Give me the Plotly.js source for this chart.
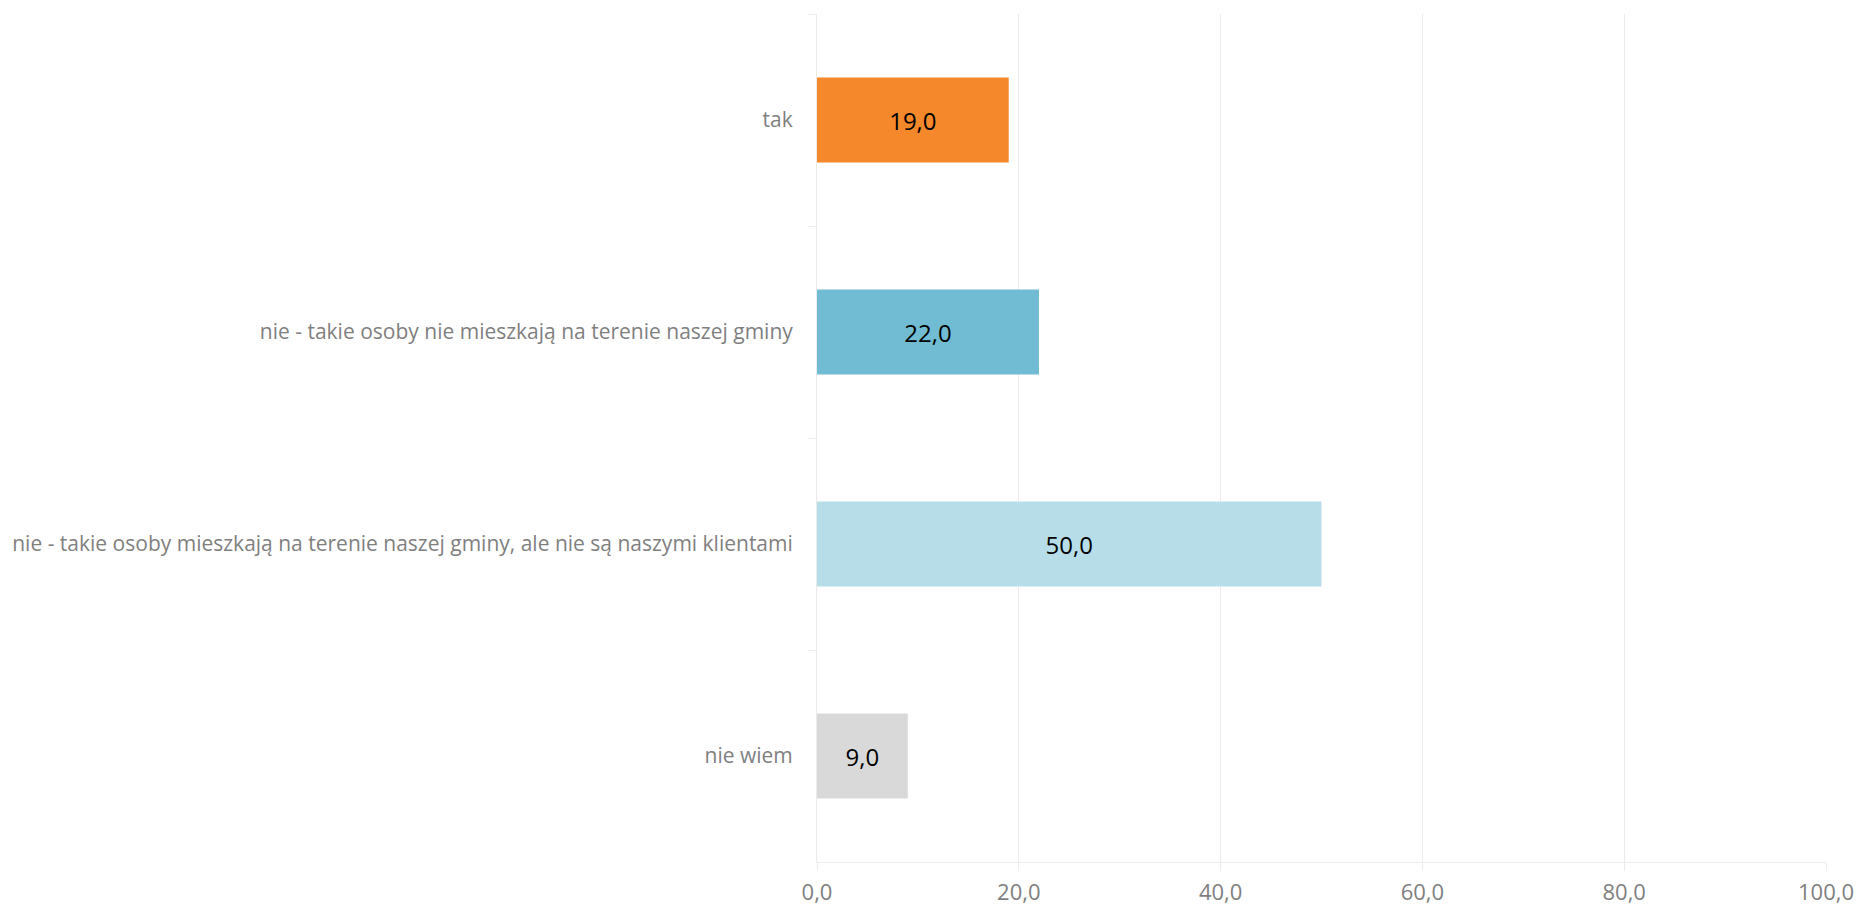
<!DOCTYPE html>
<html>
<head>
<meta charset="utf-8">
<script src="https://cdn.plot.ly/plotly-3.0.1.min.js"></script>
<style>html,body{margin:0;padding:0;background:#fff;}#chart{width:1859px;height:909px;}</style>
</head>
<body>
<div id="chart"></div>
<script>
const categories = [
  "tak",
  "nie - takie osoby nie mieszkają na terenie naszej gminy",
  "nie - takie osoby mieszkają na terenie naszej gminy, ale nie są naszymi klientami",
  "nie wiem"
];
const values = [19.0, 22.0, 50.0, 9.0];
const barColors = ["#F5882B", "#72BCD3", "#B7DEE8", "#D9D9D9"];
const xTicks = [0, 20, 40, 60, 80, 100];

const trace = {
  type: "bar",
  orientation: "h",
  y: categories,
  x: values,
  marker: {color: barColors, line: {width: 0}},
  text: values,
  texttemplate: "%{x:.1f}",
  textposition: "inside",
  insidetextanchor: "middle",
  textangle: 0,
  textfont: {family: "Open Sans, sans-serif", size: 24, color: "#000000"},
  hoverinfo: "none",
  cliponaxis: false
};

const layout = {
  width: 1859,
  height: 909,
  margin: {l: 817, r: 33, t: 14, b: 47},
  paper_bgcolor: "#ffffff",
  plot_bgcolor: "#ffffff",
  separators: ", ",
  bargap: 0.6,
  showlegend: false,
  font: {family: "Open Sans, sans-serif", color: "#7F7F7F"},
  xaxis: {
    range: [0, 100],
    tickvals: xTicks,
    tickformat: ".1f",
    showgrid: true,
    gridcolor: "#EBEBEB",
    gridwidth: 1,
    zeroline: false,
    showline: true,
    linecolor: "#EBEBEB",
    linewidth: 1,
    ticks: "outside",
    ticklen: 8,
    tickcolor: "#EBEBEB",
    ticklabelstandoff: 3,
    tickfont: {family: "Open Sans, sans-serif", size: 22, color: "#7F7F7F"},
    fixedrange: true
  },
  yaxis: {
    type: "category",
    autorange: "reversed",
    showgrid: false,
    zeroline: false,
    showline: true,
    linecolor: "#EBEBEB",
    linewidth: 1,
    ticks: "outside",
    tickson: "boundaries",
    ticklen: 8,
    tickcolor: "#EBEBEB",
    ticklabelstandoff: 19,
    tickfont: {family: "Open Sans, sans-serif", size: 21, color: "#7F7F7F"},
    fixedrange: true
  }
};

Plotly.newPlot("chart", [trace], layout, {displayModeBar: false, staticPlot: true});
</script>
</body>
</html>
